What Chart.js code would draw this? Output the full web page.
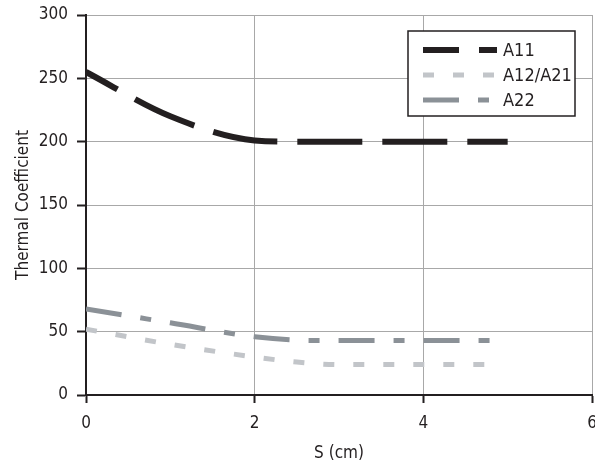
<!DOCTYPE html>
<html>
<head>
<meta charset="utf-8">
<script src="https://cdn.jsdelivr.net/npm/chart.js@4.4.0/dist/chart.umd.min.js"></script>
<style>
  html, body { margin: 0; padding: 0; background: #fff; }
  #wrap { width: 595px; height: 468px; }
</style>
</head>
<body>
<div id="wrap"><canvas id="myChart" width="595" height="468"></canvas></div>
<script>
// Data -----------------------------------------------------
const seriesNames = ["A11", "A12/A21", "A22"];

const a11X = [0, 1, 2, 2.5, 3, 4, 5];
const a11Y = [255, 220, 201, 200, 200, 200, 200];

const a12X = [0, 1, 2, 2.5, 3, 4, 4.85];
const a12Y = [52, 40, 30, 26, 24, 24, 24];

const a22X = [0, 1, 2, 2.7, 3, 4, 4.8];
const a22Y = [68, 57, 46, 43, 43, 43, 43];

const xTicks = [0, 2, 4, 6];
const yTicks = [0, 50, 100, 150, 200, 250, 300];

const FONT = "'Liberation Sans Narrow', 'DejaVu Sans Condensed', sans-serif";
const TEXT = "#231f20";

const toPoints = (xs, ys) => xs.map((x, i) => ({ x: x, y: ys[i] }));

// Legend drawn inside the plot, top right --------------------
const boxLegend = {
  id: "boxLegend",
  afterDraw(chart) {
    const ctx = chart.ctx;
    const area = chart.chartArea;
    const w = 167, h = 85;
    const left = area.right - 17 - w;
    const top = area.top + 16;
    ctx.save();
    ctx.fillStyle = "#fff";
    ctx.fillRect(left, top, w, h);
    ctx.strokeStyle = TEXT;
    ctx.lineWidth = 1.5;
    ctx.strokeRect(left, top, w, h);
    chart.data.datasets.forEach((ds, i) => {
      const y = top + 19 + i * 25;
      ctx.beginPath();
      ctx.setLineDash(ds.borderDash || []);
      ctx.lineDashOffset = ds.borderDashOffset || 0;
      ctx.lineCap = "butt";
      ctx.strokeStyle = ds.borderColor;
      ctx.lineWidth = ds.borderWidth;
      ctx.moveTo(left + 15, y);
      ctx.lineTo(left + 89, y);
      ctx.stroke();
      ctx.setLineDash([]);
      ctx.fillStyle = TEXT;
      ctx.font = "18px " + FONT;
      ctx.textBaseline = "middle";
      ctx.fillText(ds.label, left + 95, y + 1);
    });
    ctx.restore();
  },
};

const ctx = document.getElementById("myChart").getContext("2d");
const myChart = new Chart(ctx, {
  type: "line",
  data: {
    datasets: [
      {
        label: seriesNames[0],
        data: toPoints(a11X, a11Y),
        borderColor: "#231f20",
        borderWidth: 6,
        borderDash: [65, 20],
        borderDashOffset: 29,
        cubicInterpolationMode: "monotone",
        pointRadius: 0,
        fill: false,
      },
      {
        label: seriesNames[1],
        data: toPoints(a12X, a12Y),
        borderColor: "#c2c5c9",
        borderWidth: 5,
        borderDash: [11, 19],
        cubicInterpolationMode: "monotone",
        pointRadius: 0,
        fill: false,
      },
      {
        label: seriesNames[2],
        data: toPoints(a22X, a22Y),
        borderColor: "#8b9197",
        borderWidth: 5,
        borderDash: [36, 19, 11, 19],
        cubicInterpolationMode: "monotone",
        pointRadius: 0,
        fill: false,
      },
    ],
  },
  options: {
    responsive: false,
    animation: false,
    events: [],
    layout: { padding: { top: 15, right: 3, left: 0, bottom: 0 } },
    scales: {
      x: {
        type: "linear",
        min: 0,
        max: 6,
        afterBuildTicks: (scale) => {
          scale.ticks = xTicks.map((v) => ({ value: v }));
        },
        afterFit: (scale) => {
          scale.height = 73;
          scale.paddingLeft = 0;
          scale.paddingRight = 0;
        },
        grid: {
          color: "#a8a8a8",
          lineWidth: 1,
          tickColor: TEXT,
          tickLength: 8,
          tickWidth: 2,
        },
        border: { color: TEXT, width: 2 },
        ticks: {
          color: TEXT,
          font: { family: FONT, size: 17 },
          padding: 10,
        },
        title: {
          display: true,
          text: "S (cm)",
          color: TEXT,
          font: { family: FONT, size: 17 },
          padding: { top: 6, bottom: 4 },
        },
      },
      y: {
        min: 0,
        max: 300,
        afterBuildTicks: (scale) => {
          scale.ticks = yTicks.map((v) => ({ value: v }));
        },
        afterFit: (scale) => {
          scale.width = 86;
          scale.paddingTop = 0;
          scale.paddingBottom = 0;
        },
        grid: {
          color: "#a8a8a8",
          lineWidth: 1,
          tickColor: TEXT,
          tickLength: 9,
          tickWidth: 2,
        },
        border: { color: TEXT, width: 2 },
        ticks: {
          color: TEXT,
          font: { family: FONT, size: 17 },
          padding: 9,
        },
        title: {
          display: true,
          text: "Thermal Coefficient",
          color: TEXT,
          font: { family: FONT, size: 17 },
          padding: { top: 13, bottom: 4 },
        },
      },
    },
    plugins: {
      legend: { display: false },
      tooltip: { enabled: false },
    },
  },
  plugins: [boxLegend],
});
</script>
</body>
</html>
